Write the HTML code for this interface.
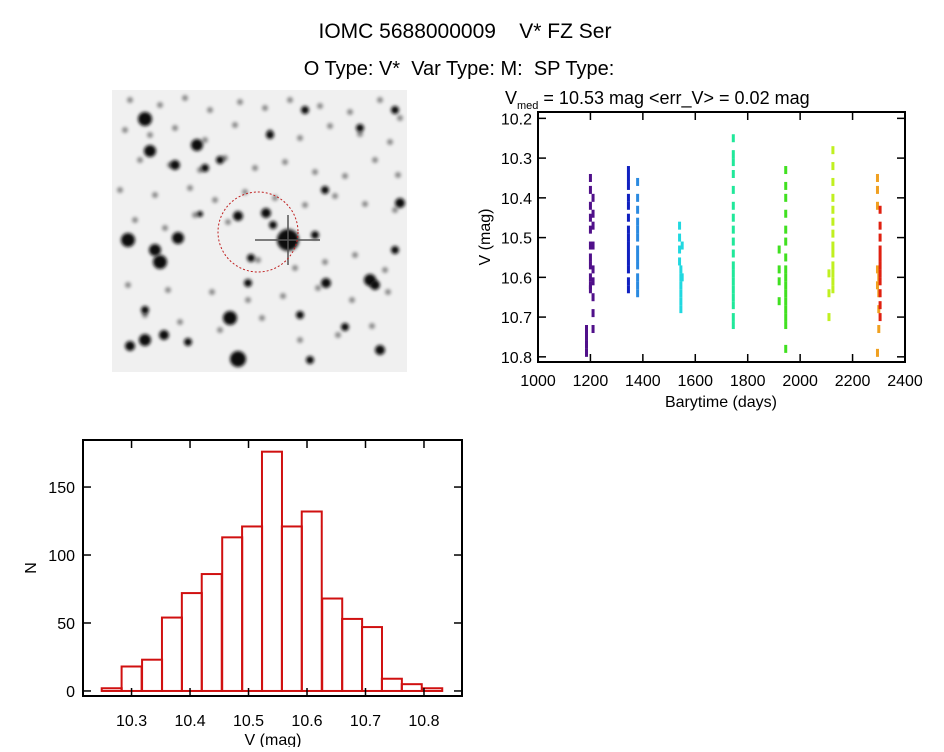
<!DOCTYPE html>
<html><head><meta charset="utf-8"><style>
body{margin:0;background:#fff;width:944px;height:747px;overflow:hidden;font-family:"Liberation Sans",sans-serif}
svg text{font-family:"Liberation Sans",sans-serif;fill:#000}
</style></head><body>
<svg width="944" height="747" viewBox="0 0 944 747">
<defs><filter id="blur" x="-50%" y="-50%" width="200%" height="200%"><feGaussianBlur stdDeviation="1.5"/></filter></defs>
<text x="465" y="38" font-size="21" text-anchor="middle" xml:space="preserve">IOMC 5688000009    V* FZ Ser</text>
<text x="459" y="75" font-size="20" text-anchor="middle" xml:space="preserve">O Type: V*  Var Type: M:  SP Type:</text>
<g id="img"></g>
<g id="lc"></g>
<g id="hist"></g>
</svg>
<script>
const NS='http://www.w3.org/2000/svg';
function mk(p,t,a){const e=document.createElementNS(NS,t);for(const k in a)e.setAttribute(k,a[k]);p.appendChild(e);return e;}

// ---- star field image ----
const img=document.getElementById('img');
mk(img,'rect',{x:112,y:90,width:295,height:282,fill:'#f0f0f0'});
const faintX=[130,160,185,210,240,265,290,320,350,380,400,125,150,175,205,235,270,300,330,360,390,140,170,200,225,255,285,315,345,375,398,120,155,190,215,245,275,305,335,365,395,135,165,195,228,258,295,325,355,385,128,168,212,248,283,318,352,388,145,180,220,262,300,338,372];
const faintY=[100,105,98,110,102,108,100,106,112,100,118,130,135,128,140,125,132,138,126,134,142,160,165,170,158,168,162,172,176,160,175,190,195,188,200,192,198,205,196,204,210,220,228,215,222,260,268,262,255,270,285,290,292,300,296,288,300,292,315,322,330,318,340,335,326];
for(let i=0;i<faintX.length;i++){
 const c=mk(img,'circle',{cx:faintX[i],cy:faintY[i],r:3,fill:'#8a8a8a',filter:'url(#blur)'});
 
 
}
const starX=[288,230,145,150,128,155,160,238,197,266,175,238,178,315,326,370,248,300,400,130,188,345,205,273,145,375,305,395,220,164,251,325,200,360,380,145,395,310,270];
const starY=[240,318,119,151,240,250,262,359,145,213,165,216,238,235,283,280,283,315,203,346,342,327,168,225,310,285,110,250,160,335,258,190,214,128,350,340,110,360,135];
const starR=[10,6,6,5,6,5,6,7,5,4,4,4,5,3,4,5,3,3,4,4,3,3,3,3,3,4,3,3,3,4,3,3,2,3,4,5,3,3,3];
for(let i=0;i<starX.length;i++){
 const c=mk(img,'circle',{cx:starX[i],cy:starY[i],r:starR[i]+1,fill:'#111',filter:'url(#blur)'});
 
 
}
mk(img,'line',{x1:255,y1:240,x2:320,y2:240,stroke:'#555','stroke-width':1.5});
mk(img,'line',{x1:288,y1:215,x2:288,y2:265,stroke:'#555','stroke-width':1.5});
const circ=mk(img,'circle',{cx:258,cy:232,r:40,fill:'none',stroke:'#c02020','stroke-width':1,'stroke-dasharray':'2,2'});



// ---- light curve data ----
const lcT=[1185,1185,1185,1185,1200,1200,1200,1200,1200,1200,1200,1200,1200,1200,1200,1210,1210,1210,1210,1210,1210,1210,1210,1210,
1345,1345,1345,1345,1345,1345,1345,1345,1345,1345,1345,1345,1345,1345,1380,1380,1380,1380,1380,1380,1380,1380,1380,1380,1380,1380,
1540,1540,1540,1540,1545,1545,1545,1545,1545,1545,1550,1550,
1745,1745,1745,1745,1745,1745,1745,1745,1745,1745,1745,1745,1745,1745,1745,1745,1745,1745,
1920,1920,1920,1920,1945,1945,1945,1945,1945,1945,1945,1945,1945,1945,1945,1945,1945,1945,1945,1945,
2110,2110,2110,2125,2125,2125,2125,2125,2125,2125,2125,2125,2125,2125,2125,2125,
2295,2295,2295,2295,2295,2295,2300,2300,2300,2300,2305,2305,2305,2305,2305,2305,2305,2305,2305,2305,2305];
const lcV=[10.73,10.75,10.77,10.79,10.35,10.38,10.42,10.45,10.48,10.52,10.55,10.57,10.60,10.62,10.63,10.40,10.44,10.47,10.52,10.58,10.61,10.65,10.69,10.73,
10.33,10.35,10.37,10.40,10.42,10.45,10.48,10.50,10.52,10.54,10.56,10.58,10.61,10.63,10.36,10.40,10.43,10.46,10.48,10.50,10.53,10.55,10.57,10.60,10.62,10.64,
10.47,10.50,10.53,10.56,10.58,10.60,10.62,10.64,10.66,10.68,10.52,10.60,
10.25,10.29,10.31,10.34,10.38,10.42,10.45,10.48,10.51,10.54,10.57,10.59,10.61,10.63,10.65,10.67,10.70,10.72,
10.53,10.58,10.61,10.66,10.33,10.37,10.40,10.44,10.48,10.51,10.55,10.58,10.60,10.62,10.64,10.66,10.68,10.70,10.72,10.78,
10.59,10.64,10.70,10.28,10.32,10.36,10.40,10.43,10.46,10.49,10.52,10.54,10.57,10.59,10.61,10.63,
10.35,10.38,10.42,10.58,10.62,10.79,10.60,10.64,10.68,10.73,10.43,10.47,10.50,10.53,10.55,10.57,10.59,10.61,10.64,10.67,10.70];
const lcColors=['#50108a','#1020c0','#2a8ae0','#20d8e0','#20e89a','#40e020','#c0f020','#f0a020','#e02010'];
const lcC=[0,0,0,0,0,0,0,0,0,0,0,0,0,0,0,0,0,0,0,0,0,0,0,0,
1,1,1,1,1,1,1,1,1,1,1,1,1,1,2,2,2,2,2,2,2,2,2,2,2,2,
3,3,3,3,3,3,3,3,3,3,3,3,
4,4,4,4,4,4,4,4,4,4,4,4,4,4,4,4,4,4,
5,5,5,5,5,5,5,5,5,5,5,5,5,5,5,5,5,5,5,5,
6,6,6,6,6,6,6,6,6,6,6,6,6,6,6,6,
7,7,7,7,7,7,7,7,7,7,8,8,8,8,8,8,8,8,8,8,8];
const lcXTicks=[1000,1200,1400,1600,1800,2000,2200,2400];
const lcYTicks=[10.2,10.3,10.4,10.5,10.6,10.7,10.8];

const L={l:538,r:905,t:112,b:362,x0:1000,x1:2400,y0:10.184,y1:10.813};
const lx=v=>L.l+(v-L.x0)/(L.x1-L.x0)*(L.r-L.l);
const ly=v=>L.t+(v-L.y0)/(L.y1-L.y0)*(L.b-L.t);
const lc=document.getElementById('lc');
for(let i=0;i<lcT.length;i++){
 const p=mk(lc,'rect',{x:lx(lcT[i])-1.5,y:ly(lcV[i])-4,width:3,height:8,fill:lcColors[lcC[i]]});
 
 
}
mk(lc,'rect',{x:L.l,y:L.t,width:L.r-L.l,height:L.b-L.t,fill:'none',stroke:'#000','stroke-width':2});
lcXTicks.forEach(v=>{
 const x=lx(v);
 mk(lc,'line',{x1:x,y1:L.b,x2:x,y2:L.b-8,stroke:'#000','stroke-width':1.5});
 mk(lc,'line',{x1:x,y1:L.t,x2:x,y2:L.t+8,stroke:'#000','stroke-width':1.5});
 const t=mk(lc,'text',{x:x,y:L.b+24,'font-size':16,'text-anchor':'middle'});t.textContent=v;
 
 
});
lcYTicks.forEach(v=>{
 const y=ly(v);
 mk(lc,'line',{x1:L.l,y1:y,x2:L.l+8,y2:y,stroke:'#000','stroke-width':1.5});
 mk(lc,'line',{x1:L.r,y1:y,x2:L.r-8,y2:y,stroke:'#000','stroke-width':1.5});
 const t=mk(lc,'text',{x:L.l-6,y:y+6,'font-size':16,'text-anchor':'end'});t.textContent=v.toFixed(1);
 
 
});
{const t=mk(lc,'text',{x:721,y:407,'font-size':16,'text-anchor':'middle'});t.textContent='Barytime (days)';

const t2=mk(lc,'text',{x:0,y:0,'font-size':16,'text-anchor':'middle',transform:'translate(490,237) rotate(-90)'});t2.textContent='V (mag)';

const t3=mk(lc,'text',{x:505,y:104,'font-size':18});
t3.innerHTML='V<tspan font-size="11" dy="5">med</tspan><tspan dy="-5"> = 10.53 mag &lt;err_V&gt; = 0.02 mag</tspan>';
}

// ---- histogram ----
const binStarts=[10.249,10.283,10.318,10.352,10.386,10.420,10.455,10.489,10.523,10.557,10.591,10.626,10.660,10.694,10.728,10.762,10.797];
const binCounts=[2,18,23,54,72,86,113,121,176,121,132,68,53,47,9,5,2];
const binWidth=0.0342;
const hXTicks=[10.3,10.4,10.5,10.6,10.7,10.8];
const hYTicks=[0,50,100,150];
const H={l:83,r:462,t:440,b:696,x0:10.217,x1:10.865,y0:-3.7,y1:184.6};
const hx=v=>H.l+(v-H.x0)/(H.x1-H.x0)*(H.r-H.l);
const hy=v=>H.b-(v-H.y0)/(H.y1-H.y0)*(H.b-H.t);
const hist=document.getElementById('hist');
for(let i=0;i<binCounts.length;i++){
 const x0=hx(binStarts[i]),x1=hx(binStarts[i]+binWidth),y=hy(binCounts[i]),y0=hy(0);
 const b=mk(hist,'rect',{x:x0,y:y,width:x1-x0,height:y0-y,fill:'none',stroke:'#d01010','stroke-width':2});
 
 
}
mk(hist,'rect',{x:H.l,y:H.t,width:H.r-H.l,height:H.b-H.t,fill:'none',stroke:'#000','stroke-width':2});
hXTicks.forEach(v=>{
 const x=hx(v);
 mk(hist,'line',{x1:x,y1:H.b,x2:x,y2:H.b-8,stroke:'#000','stroke-width':1.5});
 mk(hist,'line',{x1:x,y1:H.t,x2:x,y2:H.t+8,stroke:'#000','stroke-width':1.5});
 const t=mk(hist,'text',{x:x,y:H.b+30,'font-size':16,'text-anchor':'middle'});t.textContent=v.toFixed(1);
 
 
});
hYTicks.forEach(v=>{
 const y=hy(v);
 mk(hist,'line',{x1:H.l,y1:y,x2:H.l+8,y2:y,stroke:'#000','stroke-width':1.5});
 mk(hist,'line',{x1:H.r,y1:y,x2:H.r-8,y2:y,stroke:'#000','stroke-width':1.5});
 const t=mk(hist,'text',{x:H.l-8,y:y+6,'font-size':16,'text-anchor':'end'});t.textContent=v;
 
 
});
{const t=mk(hist,'text',{x:273,y:745,'font-size':16,'text-anchor':'middle'});t.textContent='V (mag)';

const t2=mk(hist,'text',{x:0,y:0,'font-size':16,'text-anchor':'middle',transform:'translate(36,568) rotate(-90)'});t2.textContent='N';
}
</script>
</body></html>
